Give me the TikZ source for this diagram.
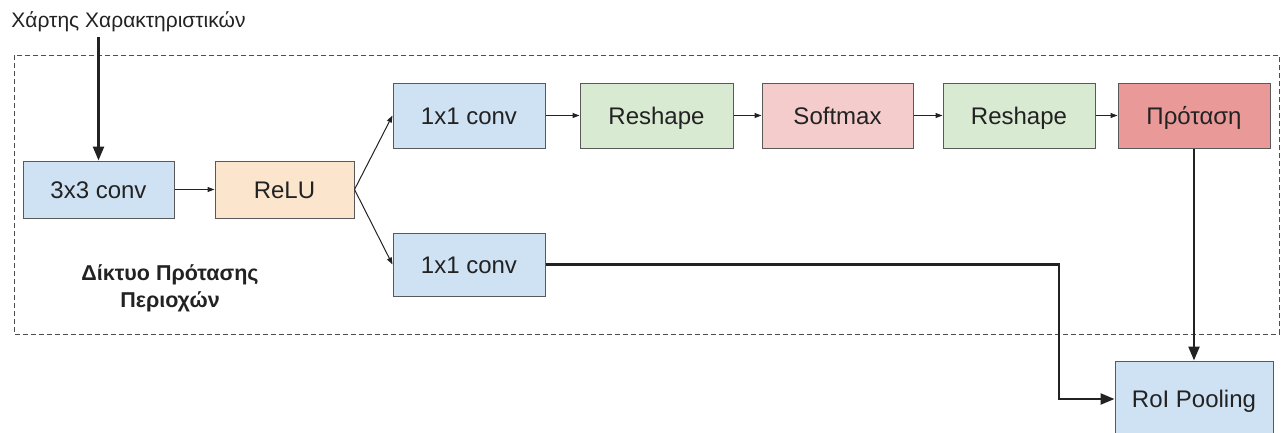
\documentclass[tikz,border=0pt]{standalone}
\usepackage{fontspec}
\setmainfont{Liberation Sans}
\usetikzlibrary{arrows.meta,positioning}
\definecolor{bord}{HTML}{595959}
\definecolor{cblue}{HTML}{CFE2F3}
\definecolor{corange}{HTML}{FCE5CD}
\definecolor{cgreen}{HTML}{D9EAD3}
\definecolor{cpink}{HTML}{F4CCCC}
\definecolor{cred}{HTML}{EA9999}
\definecolor{txt}{HTML}{222222}
\tikzset{
  blk/.style={draw=bord, line width=1pt, inner sep=0pt, text=txt,
    font=\fontsize{24}{28}\selectfont, text height=17.5pt, text depth=0pt},
  thinarr/.style={line width=1pt, draw=txt, -{Triangle[length=7pt,width=5pt]}},
  thickarr/.style={line width=2.4pt, draw=txt, -{Triangle[length=14pt,width=11pt]}},
}
\begin{document}
\begin{tikzpicture}[x=1pt,y=-1pt]
\useasboundingbox (0,0) rectangle (1283,432);
\draw[line width=1pt, draw=txt!80, dash pattern=on 5pt off 3pt] (14,55) rectangle (1279,334);

\node[blk, fill=cblue, minimum width=151pt, minimum height=57pt] (c3) at (98.5,189.5) {3x3 conv};
\node[blk, fill=corange, minimum width=139pt, minimum height=57pt] (relu) at (284.5,189.5) {ReLU};
\node[blk, fill=cblue, minimum width=152pt, minimum height=65pt] (c1a) at (469,115.5) {1x1 conv};
\node[blk, fill=cgreen, minimum width=153pt, minimum height=65pt] (rs1) at (656.5,115.5) {Reshape};
\node[blk, fill=cpink, minimum width=151pt, minimum height=65pt] (sm) at (837.5,115.5) {Softmax};
\node[blk, fill=cgreen, minimum width=152pt, minimum height=65pt] (rs2) at (1019,115.5) {Reshape};
\node[blk, fill=cred, minimum width=152pt, minimum height=65pt] (prot) at (1194,115.5) {Πρόταση};
\node[blk, fill=cblue, minimum width=152pt, minimum height=63pt] (c1b) at (469,264.5) {1x1 conv};
\node[blk, fill=cblue, minimum width=158pt, minimum height=76pt] (roi) at (1194,399) {RoI Pooling};

\node[inner sep=0pt, text=txt, font=\fontsize{21}{24}\selectfont, text height=15pt, text depth=0pt] (fm) at (128.5,20) {Χάρτης Χαρακτηριστικών};
\node[inner sep=0pt, text=txt, align=center, font=\bfseries\fontsize{21.5}{27}\selectfont] (rpn) at (170,288.5) {Δίκτυο Πρότασης\\Περιοχών};

\coordinate (fmstart) at (c3.north |- 0,37);
\draw[thickarr] (fmstart) -- (c3.north);
\draw[thinarr] (c3.east) -- (relu.west);
\draw[thinarr] (relu.east) -- (c1a.west);
\draw[thinarr] (relu.east) -- (c1b.west);
\draw[thinarr] (c1a.east) -- (rs1.west);
\draw[thinarr] (rs1.east) -- (sm.west);
\draw[thinarr] (sm.east) -- (rs2.west);
\draw[thinarr] (rs2.east) -- (prot.west);
\draw[thickarr] (prot.south) -- (roi.north);
\coordinate (bend) at (1059,264.5);
\draw[thickarr] (c1b.east) -- (bend) |- (roi.west);
\end{tikzpicture}
\end{document}
